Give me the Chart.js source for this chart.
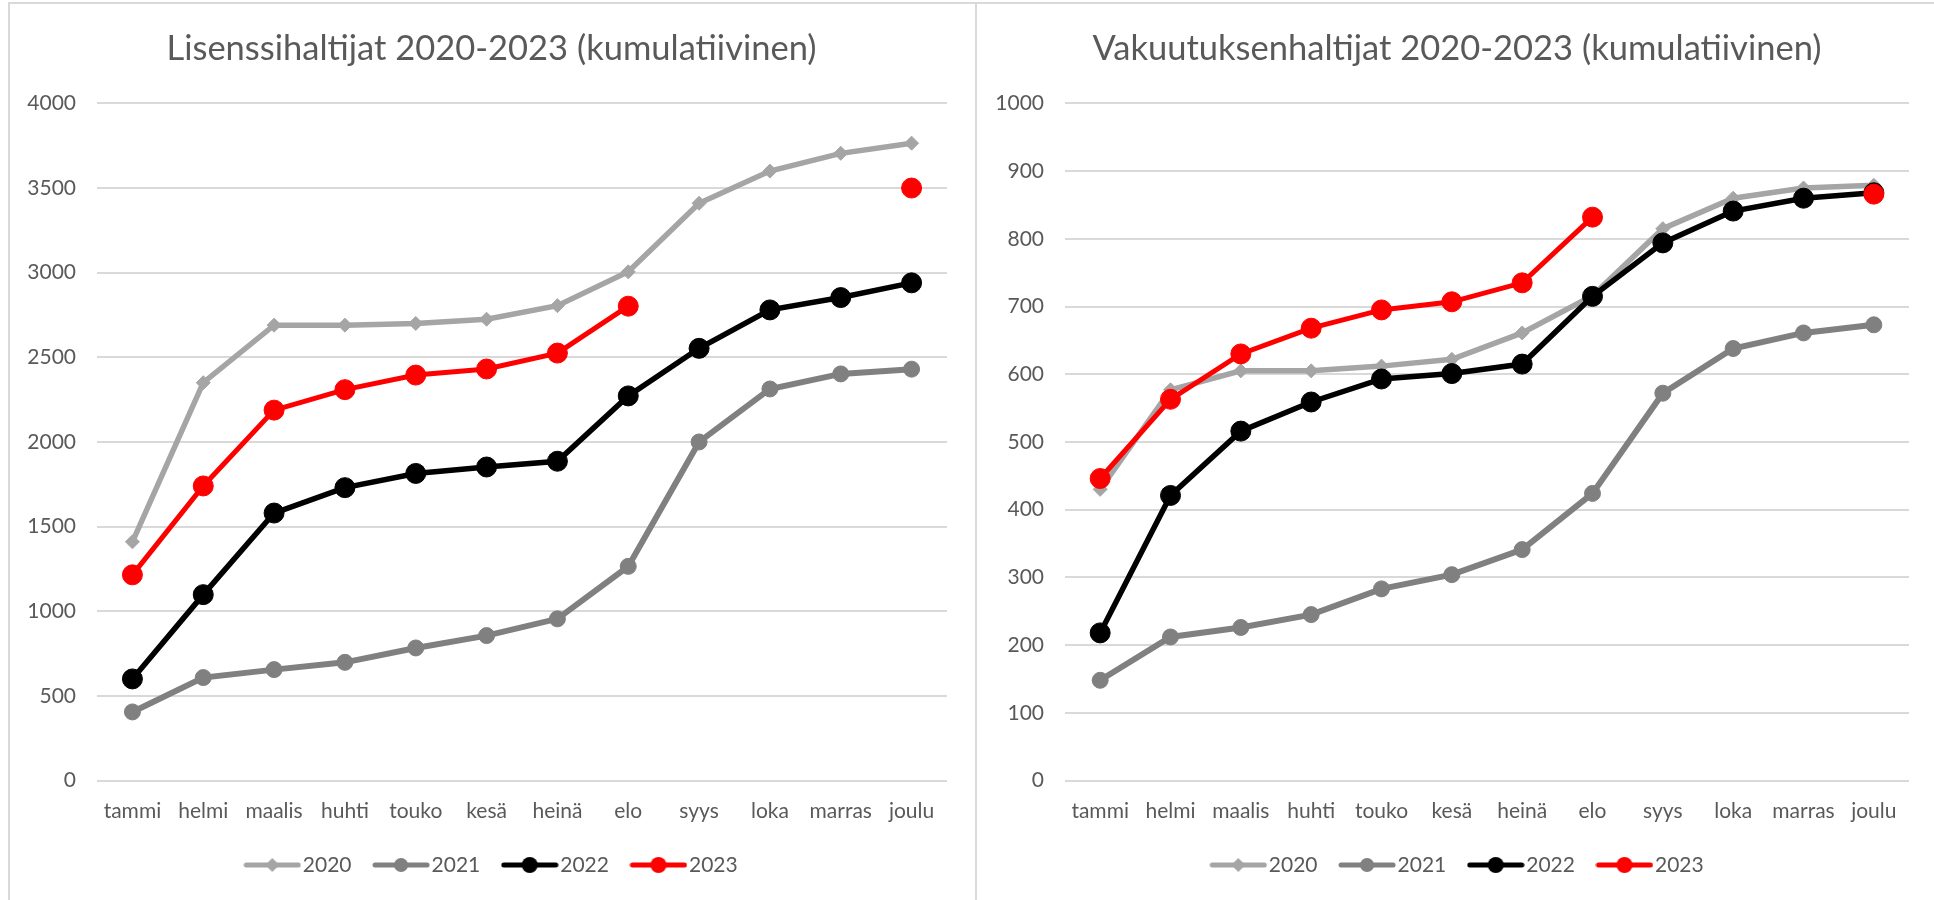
<!DOCTYPE html>
<html>
<head>
<meta charset="utf-8">
<script src="https://cdn.jsdelivr.net/npm/chart.js@4.4.1/dist/chart.umd.min.js"></script>
<style>
  html, body { margin: 0; padding: 0; background: #ffffff; overflow: hidden; width: 1934px; height: 900px; }
  .panel { position: absolute; top: 2px; height: 898px; border-left: 2px solid #D9D9D9; border-top: 2px solid #D9D9D9; background: #fff; }
  #p1 { left: 8px; width: 965px; }
  #p2 { left: 975px; width: 957px; border-right: 2px solid #D9D9D9; }
  canvas { display: block; }
</style>
</head>
<body>
<div class="panel" id="p1"><canvas id="c1" width="965" height="896"></canvas></div>
<div class="panel" id="p2"><canvas id="c2" width="957" height="896"></canvas></div>
<script>
// ---- data ----
const months = ['tammi','helmi','maalis','huhti','touko','kesä','heinä','elo','syys','loka','marras','joulu'];
const years = ['2020','2021','2022','2023'];

const lic2020 = [1410, 2350, 2690, 2690, 2700, 2725, 2805, 3005, 3410, 3600, 3705, 3765];
const lic2021 = [405, 608, 655, 698, 783, 856, 955, 1265, 2000, 2313, 2402, 2430];
const lic2022 = [600, 1098, 1580, 1730, 1814, 1852, 1886, 2272, 2553, 2780, 2853, 2940];
const lic2023 = [1215, 1740, 2188, 2309, 2395, 2431, 2525, 2802, null, null, null, 3500];

const ins2020 = [430, 577, 605, 605, 612, 622, 661, 716, 815, 860, 875, 879];
const ins2021 = [148, 212, 226, 245, 283, 304, 341, 424, 572, 638, 661, 673];
const ins2022 = [218, 421, 516, 559, 593, 601, 615, 715, 794, 841, 860, 868];
const ins2023 = [446, 563, 630, 668, 695, 707, 735, 832, null, null, null, 866];

const licTitle = 'Lisenssihaltijat 2020-2023 (kumulatiivinen)';
const insTitle = 'Vakuutuksenhaltijat 2020-2023 (kumulatiivinen)';
const licTicks = { min: 0, max: 4000, step: 500 };
const insTicks = { min: 0, max: 1000, step: 100 };

// ---- styles ----
const FONT = 'Lato, "Open Sans", sans-serif';
const TEXT = '#595959';
const seriesStyle = [
  { color: '#A5A5A5', width: 5.5, style: 'rectRot', radius: 7,  legR: 7 },
  { color: '#808080', width: 6,   style: 'circle',  radius: 8,  legR: 7 },
  { color: '#000000', width: 5.5, style: 'circle',  radius: 10, legR: 8 },
  { color: '#FF0000', width: 5,   style: 'circle',  radius: 10, legR: 8 }
];

function legendImage(s) {
  const c = document.createElement('canvas');
  c.width = 58; c.height = 24;
  const g = c.getContext('2d');
  g.strokeStyle = s.color; g.lineWidth = 5; g.lineCap = 'round';
  g.beginPath(); g.moveTo(3, 12); g.lineTo(55, 12); g.stroke();
  g.fillStyle = s.color;
  g.beginPath();
  if (s.style === 'rectRot') {
    g.moveTo(29 - s.legR, 12); g.lineTo(29, 12 - s.legR); g.lineTo(29 + s.legR, 12); g.lineTo(29, 12 + s.legR); g.closePath();
  } else {
    g.arc(29, 12, s.legR, 0, Math.PI * 2);
  }
  g.fill();
  return c;
}
const legendImgs = seriesStyle.map(legendImage);

// shifts title / legend horizontally after layout (their centre differs from the full box centre)
const shiftPlugin = {
  id: 'shift',
  afterLayout(chart, args, o) {
    if (chart.titleBlock) { chart.titleBlock.left += o.title; chart.titleBlock.right += o.title; }
    if (chart.legend) { chart.legend.left += o.legend; chart.legend.right += o.legend; }
  }
};

function makeChart(canvasId, title, seriesList, ticks, opts) {
  const datasets = seriesList.map((vals, i) => {
    const s = seriesStyle[i];
    return {
      label: years[i],
      data: vals,
      borderColor: s.color,
      backgroundColor: s.color,
      borderWidth: s.width,
      pointStyle: s.style,
      pointRadius: s.radius,
      pointHoverRadius: s.radius,
      pointBackgroundColor: s.color,
      pointBorderColor: s.color,
      pointBorderWidth: 1,
      tension: 0,
      spanGaps: false,
      order: 4 - i
    };
  });
  return new Chart(document.getElementById(canvasId), {
    type: 'line',
    data: { labels: months, datasets },
    plugins: [shiftPlugin],
    options: {
      responsive: false,
      animation: false,
      events: [],
      layout: { padding: { left: opts.padL, right: opts.padR, top: 0, bottom: 14.5 } },
      plugins: {
        shift: { title: opts.titleShift, legend: opts.legendShift },
        title: {
          display: true, text: title, color: TEXT,
          font: { family: FONT, size: 34.5, weight: 'normal' },
          padding: { top: 24, bottom: 34 }
        },
        legend: {
          display: true, position: 'bottom',
          labels: {
            usePointStyle: true, pointStyleWidth: 40, padding: 29.5,
            color: TEXT, font: { family: FONT, size: 21 },
            generateLabels: (chart) => chart.data.datasets.map((ds, i) => ({
              text: ds.label, datasetIndex: i, pointStyle: legendImgs[i],
              fillStyle: ds.borderColor, strokeStyle: ds.borderColor, lineWidth: 0,
              hidden: false, fontColor: TEXT
            }))
          }
        },
        tooltip: { enabled: false }
      },
      scales: {
        x: {
          offset: true,
          grid: { display: false, drawTicks: false },
          border: { display: false },
          ticks: { color: TEXT, font: { family: FONT, size: 21 }, padding: 18, maxRotation: 0, autoSkip: false },
          afterFit: (s) => { s.height = 44.5; }
        },
        y: {
          min: ticks.min, max: ticks.max,
          grid: { color: '#D9D9D9', lineWidth: 2, drawTicks: false },
          border: { display: false },
          ticks: {
            stepSize: ticks.step, color: TEXT, font: { family: FONT, size: 21 }, padding: 21,
            callback: (v) => String(v)
          },
          afterFit: (s) => { s.width = opts.yWidth; }
        }
      }
    }
  });
}

makeChart('c1', licTitle, [lic2020, lic2021, lic2022, lic2023], licTicks,
  { padL: 12, padR: 28, yWidth: 75, titleShift: 7, legendShift: 10.5 });
makeChart('c2', insTitle, [ins2020, ins2021, ins2022, ins2023], insTicks,
  { padL: 13, padR: 25, yWidth: 75, titleShift: 7.5, legendShift: 11.5 });
</script>
</body>
</html>
